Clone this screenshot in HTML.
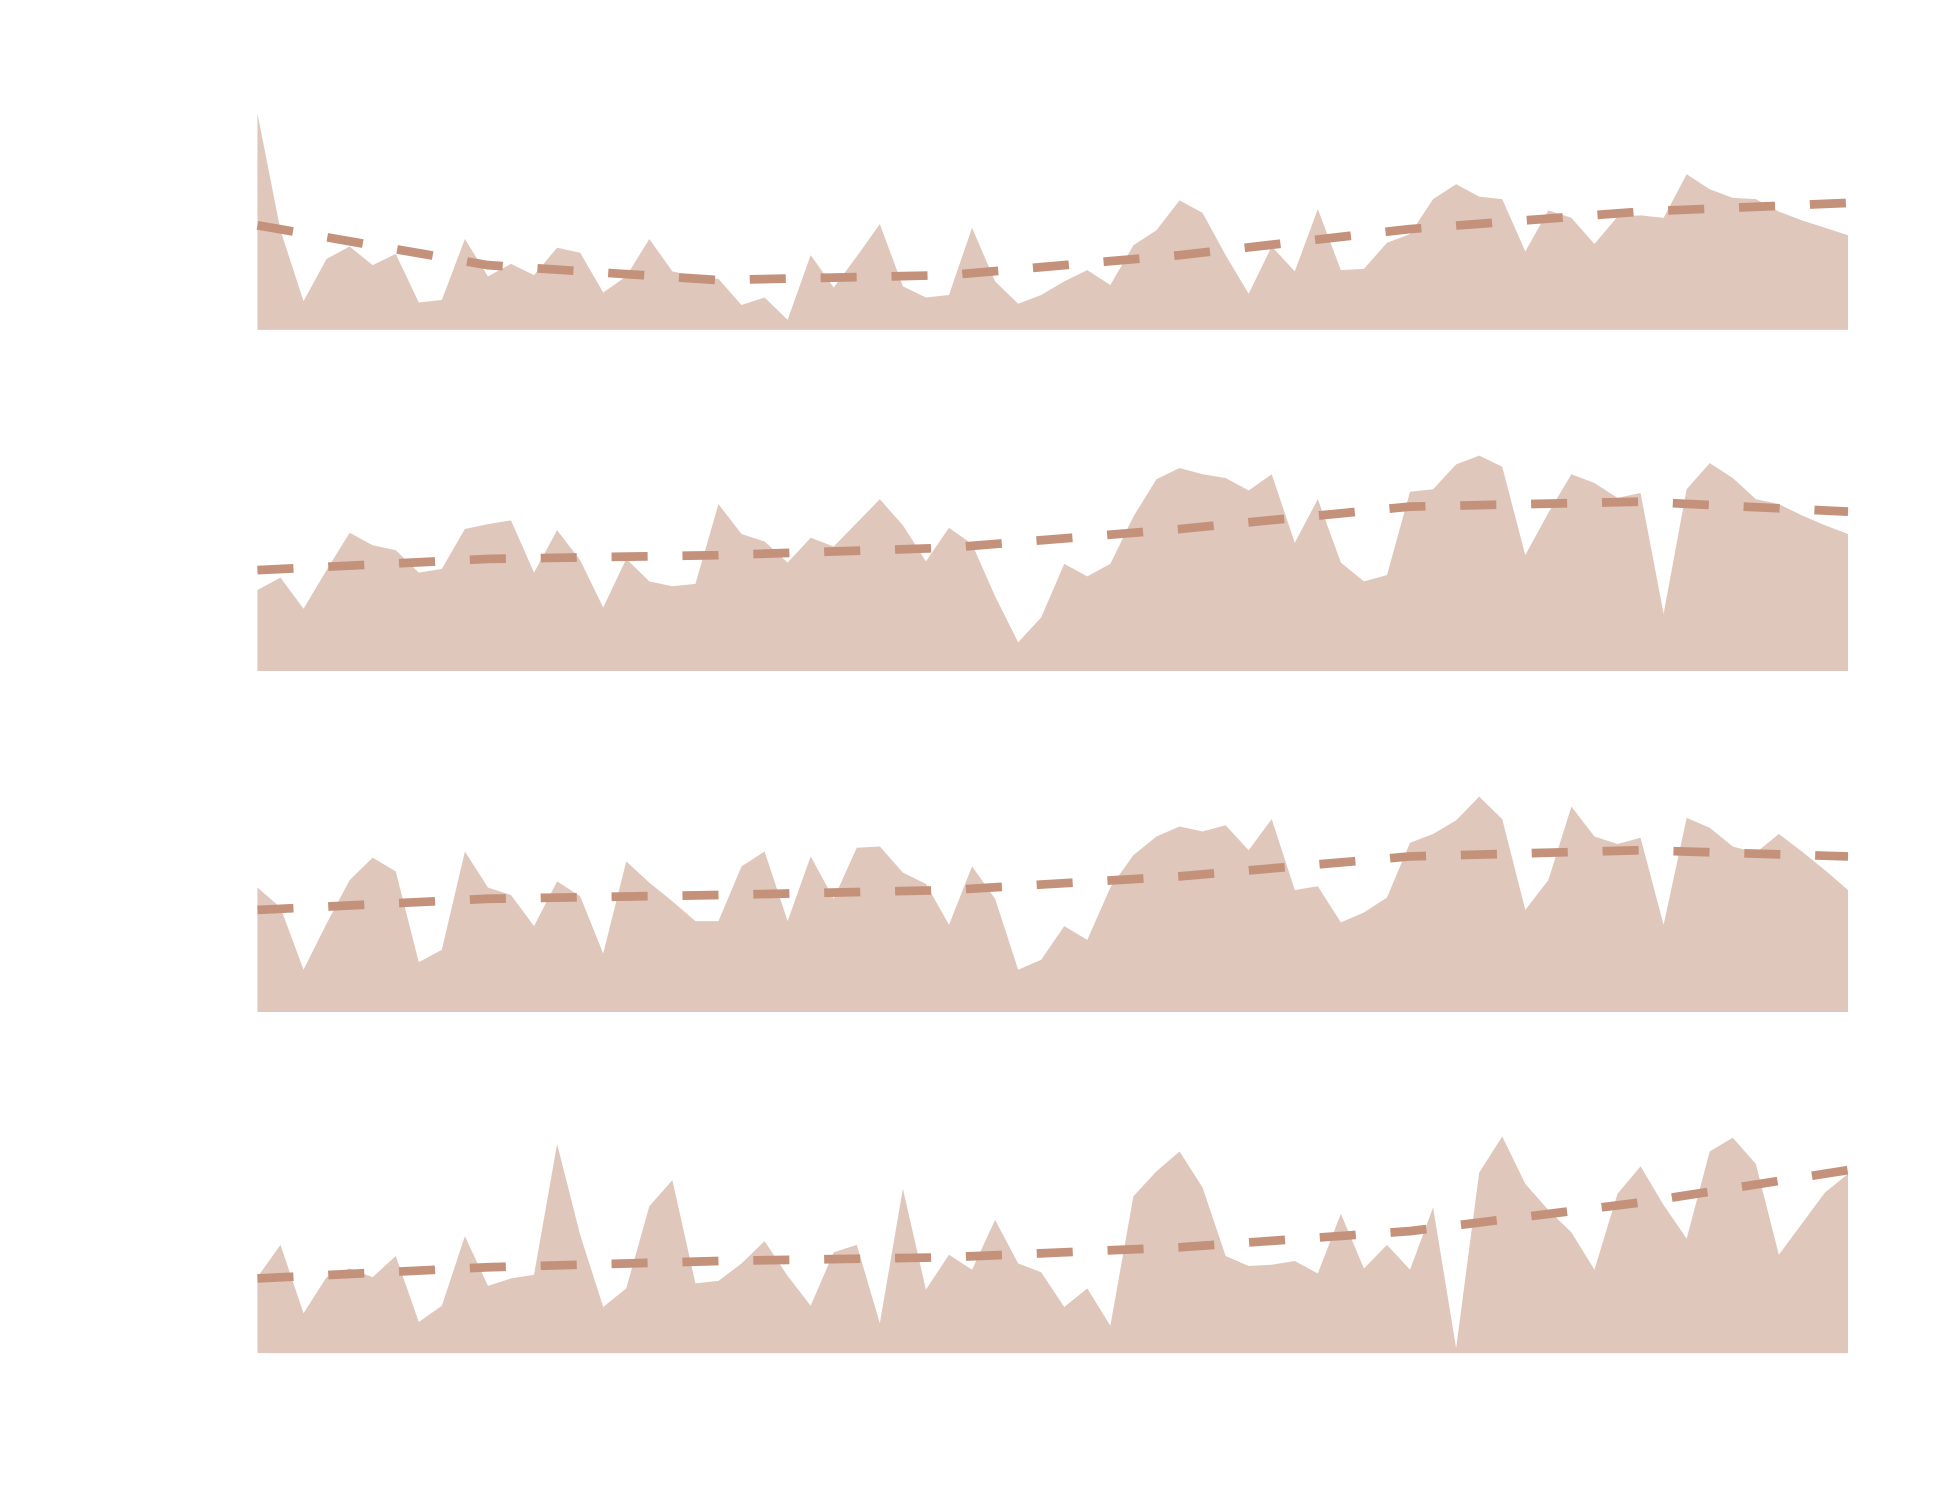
<!DOCTYPE html>
<html><head><meta charset="utf-8"><style>
html,body{margin:0;padding:0;background:#fff;}
svg{display:block;}
</style></head><body>
<svg id="chart" width="1950" height="1500" viewBox="0 0 1568 1205" preserveAspectRatio="none" xmlns="http://www.w3.org/2000/svg"></svg>
<script>
// x index 0..69 per panel
const pointCount = 70;
const series1 = [174,80,23,57,67,52,61,22,24,73,43,53,44,66,62,30,43,73,47,43,41,20,26,8,60,34,59,85,35,26,28,82,39,21,28,39,48,36,68,80,104,94,60,29,67,47,97,48,49,70,77,105,117,107,105,63,96,90,69,91,92,90,125,113,106,105,95,88,82,76];
const series2 = [65,75,50,81,111,101,97,79,82,114,118,121,79,113,89,51,90,72,68,70,134,110,104,87,107,100,119,138,117,88,115,102,60,23,43,86,76,86,124,154,163,158,155,145,158,103,138,87,72,77,144,146,166,173,164,93,127,158,151,139,143,46,146,167,155,138,134,125,117,110];
const series3 = [100,84,34,71,106,124,113,40,50,129,100,94,69,105,93,47,121,104,89,73,73,117,129,73,125,91,132,133,112,103,70,117,91,34,42,69,58,100,126,141,149,145,150,130,155,98,101,72,80,92,136,143,154,173,155,82,106,165,141,135,140,70,156,148,133,128,143,129,114,98];
const series4 = [61,87,32,61,68,61,78,25,38,94,54,60,63,168,95,37,52,118,139,56,58,72,90,62,38,81,87,24,132,51,79,67,107,72,65,37,52,22,126,146,162,133,78,70,71,74,64,112,68,87,67,117,4,145,174,136,115,97,67,128,150,119,92,162,173,152,79,104,129,144];
const trendIdx = [0,10,20,30,40,50,60,69];
const trend1 = [84,52,40,44,60,81,95,102];
const trend2 = [81,90,93,99,114,132,136,128];
const trend3 = [82,91,94,98,109,125,130,125];
const trend4 = [60,69,74,77,85,98,121,147];

const NS = "http://www.w3.org/2000/svg";
const svg = document.getElementById('chart');
const x0 = 207, x1 = 1486;
const baselines = [265, 539, 813, 1087];
function xScale(i){ return x0 + (x1 - x0) * i / (pointCount - 1); }
function yScale(v, p){ return baselines[p] - v; }

const allSeries = [series1, series2, series3, series4];
const allTrends = [trend1, trend2, trend3, trend4];

allSeries.forEach((s, p) => {
  const g = document.createElementNS(NS, 'g');
  
  
  svg.appendChild(g);

  let d = 'M' + xScale(0) + ',' + baselines[p];
  s.forEach((v, i) => { d += ' L' + xScale(i).toFixed(2) + ',' + yScale(v, p).toFixed(2); });
  d += ' L' + xScale(s.length - 1) + ',' + baselines[p] + ' Z';
  const area = document.createElementNS(NS, 'path');
  area.setAttribute('d', d);
  area.setAttribute('fill', '#e0c7bb');
  
  
  g.appendChild(area);

  const t = allTrends[p];
  let td = '';
  t.forEach((v, j) => { td += (j ? ' L' : 'M') + xScale(trendIdx[j]).toFixed(2) + ',' + yScale(v, p).toFixed(2); });
  const line = document.createElementNS(NS, 'path');
  line.setAttribute('d', td);
  line.setAttribute('fill', 'none');
  line.setAttribute('stroke', '#c4917b');
  line.setAttribute('stroke-width', '7');
  line.setAttribute('stroke-dasharray', '29 28');
  line.setAttribute('stroke-linejoin', 'round');
  
  
  g.appendChild(line);
});
</script>
</body></html>
